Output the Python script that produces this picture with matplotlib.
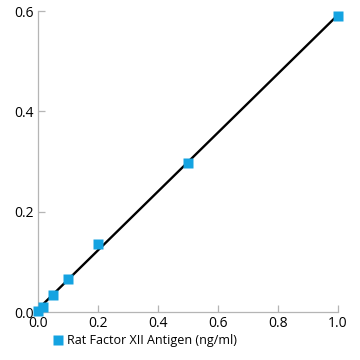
import numpy as np
import matplotlib.pyplot as plt

# standard curve: concentration (ng/ml) vs absorbance
conc = [0.0, 0.016, 0.05, 0.1, 0.2, 0.5, 1.0]
od = [0.003, 0.009, 0.034, 0.065, 0.136, 0.297, 0.591]
series_label = "Rat Factor XII Antigen (ng/ml)"

plt.rcParams['font.family'] = ['Open Sans', 'DejaVu Sans']

fig = plt.figure(figsize=(3.6, 3.6), dpi=100)
ax = fig.add_axes([0.1056, 0.1333, 0.8333, 0.836])

# linear fit through the points
slope, intercept = np.polyfit(conc, od, 1)
xfit = np.array([0.0, 1.0])
ax.plot(xfit, slope * xfit + intercept, color='black', lw=1.7, zorder=2)

ax.plot(conc, od, 's', color='#14a3e1', ms=7, mec='none', zorder=3,
        label=series_label, clip_on=False)

ax.set_xlim(0, 1.0)
ax.set_ylim(0, 0.6)
ax.set_xticks([0.0, 0.2, 0.4, 0.6, 0.8, 1.0])
ax.set_yticks([0.0, 0.2, 0.4, 0.6])
ax.xaxis.set_major_formatter(plt.FormatStrFormatter('%.1f'))
ax.yaxis.set_major_formatter(plt.FormatStrFormatter('%.1f'))

for s in ['top', 'right']:
    ax.spines[s].set_visible(False)
for s in ['left', 'bottom']:
    ax.spines[s].set_color('#b5b5b5')
    ax.spines[s].set_linewidth(0.9)
ax.tick_params(direction='in', length=5, width=0.9, color='#b5b5b5',
               labelsize=10, pad=3)

ax.legend(loc='upper left', bbox_to_anchor=(0.152, 0.072), bbox_transform=fig.transFigure,
          frameon=False, fontsize=9, handlelength=0.6, handletextpad=0.4,
          borderaxespad=0, borderpad=0, markerscale=1.0)

fig.savefig('out.png', dpi=100)
